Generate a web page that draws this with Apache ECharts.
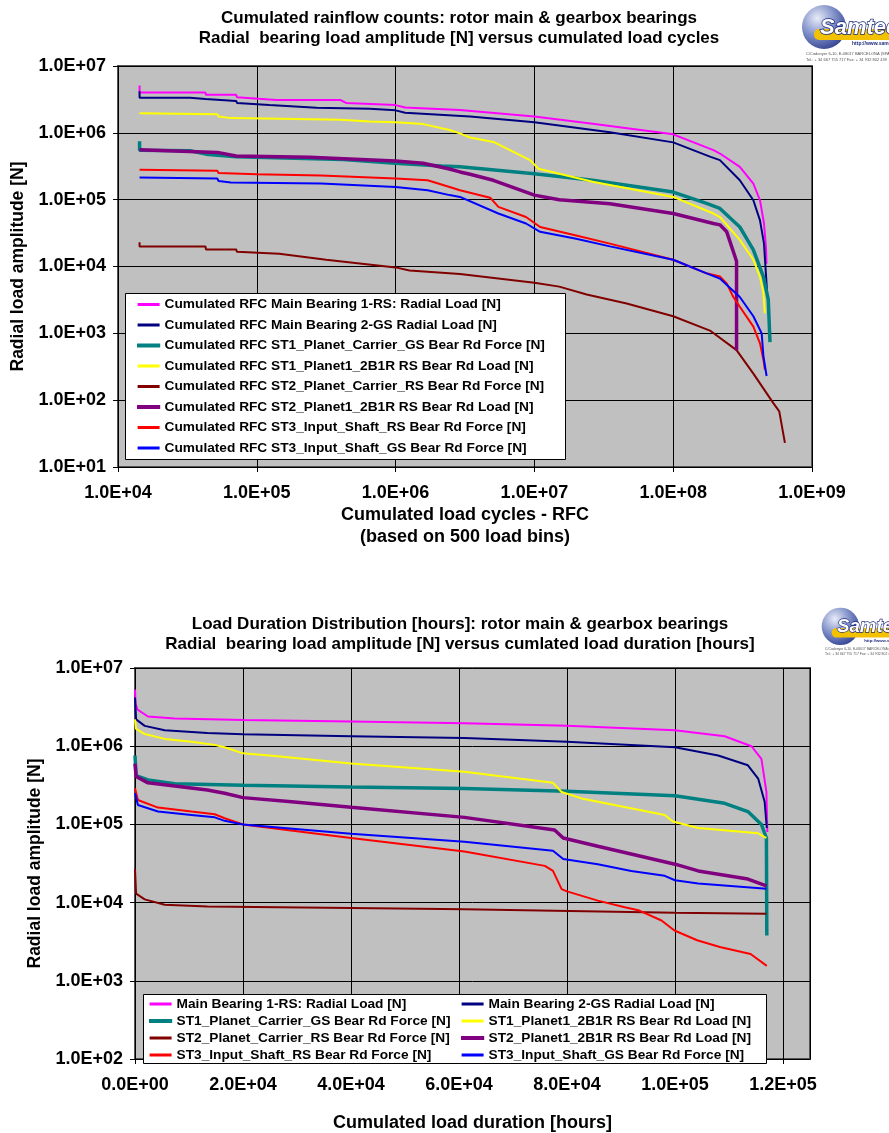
<!DOCTYPE html>
<html><head><meta charset="utf-8">
<script src="https://cdn.jsdelivr.net/npm/echarts@6/dist/echarts.min.js"></script>
<style>html,body{margin:0;padding:0;background:#fff}#c{width:889px;height:1133px}</style>
</head><body><div id="c"></div>
<script>
const FONT = '"Liberation Sans", Arial, Helvetica, sans-serif';

// ---------- tick labels ----------
const rfcXTicks = ['1.0E+04','1.0E+05','1.0E+06','1.0E+07','1.0E+08','1.0E+09'];
const rfcYTicks = ['1.0E+01','1.0E+02','1.0E+03','1.0E+04','1.0E+05','1.0E+06','1.0E+07'];
const durXTicks = ['0.0E+00','2.0E+04','4.0E+04','6.0E+04','8.0E+04','1.0E+05','1.2E+05'];
const durYTicks = ['1.0E+02','1.0E+03','1.0E+04','1.0E+05','1.0E+06','1.0E+07'];

// ---------- series names ----------
const rfcNames = [
  'Cumulated RFC Main Bearing 1-RS: Radial Load [N]',
  'Cumulated RFC Main Bearing 2-GS Radial Load [N]',
  'Cumulated RFC ST1_Planet_Carrier_GS Bear Rd Force [N]',
  'Cumulated RFC ST1_Planet1_2B1R RS Bear Rd Load [N]',
  'Cumulated RFC ST2_Planet_Carrier_RS Bear Rd Force [N]',
  'Cumulated RFC ST2_Planet1_2B1R RS Bear Rd Load [N]',
  'Cumulated RFC ST3_Input_Shaft_RS Bear Rd Force [N]',
  'Cumulated RFC ST3_Input_Shaft_GS Bear Rd Force [N]'
];
const durNames = [
  'Main Bearing 1-RS: Radial Load [N]',
  'Main Bearing 2-GS Radial Load [N]',
  'ST1_Planet_Carrier_GS Bear Rd Force [N]',
  'ST1_Planet1_2B1R RS Bear Rd Load [N]',
  'ST2_Planet_Carrier_RS Bear Rd Force [N]',
  'ST2_Planet1_2B1R RS Bear Rd Load [N]',
  'ST3_Input_Shaft_RS Bear Rd Force [N]',
  'ST3_Input_Shaft_GS Bear Rd Force [N]'
];

// ---------- top chart: [cumulated cycles, load amplitude N] ----------
const rfcMainBearing1RS = [[1.43e4,5.1e6],[1.43e4,4.0e6],[4.27e4,4.0e6],[4.3e4,3.7e6],[7.1e4,3.7e6],[7.2e4,3.4e6],[1.38e5,3.1e6],[4.0e5,3.1e6],[4.4e5,2.8e6],[1.0e6,2.6e6],[1.17e6,2.4e6],[2.9e6,2.2e6],[1.0e7,1.76e6],[2.63e7,1.37e6],[1.0e8,9.5e5],[1.95e8,5.5e5],[2.17e8,4.9e5],[3.02e8,3.1e5],[3.78e8,1.74e5],[4.22e8,9.8e4],[4.51e8,4.4e4],[4.67e8,1.8e4],[4.7e8,1.1e4]];
const rfcMainBearing2GS = [[1.43e4,4.2e6],[1.43e4,3.35e6],[3.3e4,3.35e6],[3.4e4,3.2e6],[4.27e4,3.2e6],[4.3e4,3.0e6],[7.1e4,3.0e6],[7.2e4,2.8e6],[1.23e5,2.6e6],[2.7e5,2.38e6],[6.5e5,2.3e6],[1.0e6,2.17e6],[1.17e6,2.0e6],[3.44e6,1.75e6],[1.0e7,1.44e6],[3.5e7,1.02e6],[1.0e8,7.2e5],[1.84e8,4.4e5],[2.17e8,3.9e5],[3.02e8,1.95e5],[3.78e8,9.8e4],[4.22e8,4.9e4],[4.51e8,2.2e4],[4.67e8,7e3],[4.75e8,4e3]];
const rfcST1PlanetCarrierGS = [[1.43e4,7.5e5],[1.43e4,5.5e5],[3.3e4,5.4e5],[4.3e4,4.8e5],[7.1e4,4.4e5],[7.2e4,4.2e5],[4.2e5,4.0e5],[1.0e6,3.5e5],[2.14e6,3.2e5],[2.91e6,3.1e5],[1.0e7,2.45e5],[2.63e7,1.95e5],[1.0e8,1.3e5],[1.74e8,8.8e4],[2.17e8,7.4e4],[3.02e8,3.9e4],[3.78e8,1.77e4],[4.47e8,7e3],[4.84e8,3.2e3],[4.98e8,7.4e2]];
const rfcST1Planet1RS = [[1.43e4,1.97e6],[1.43e4,1.89e6],[5.2e4,1.89e6],[5.3e4,1.76e6],[6.5e4,1.66e6],[1.5e5,1.62e6],[4.0e5,1.57e6],[6.5e5,1.48e6],[1.0e6,1.44e6],[1.58e6,1.35e6],[2.45e6,1.1e6],[2.91e6,9.8e5],[3.44e6,8.5e5],[5.06e6,7.3e5],[6.67e6,5.5e5],[9.3e6,3.9e5],[1.07e7,2.9e5],[2.63e7,1.85e5],[1.0e8,1.1e5],[1.95e8,6.2e4],[2.17e8,5.5e4],[3.02e8,2.5e4],[3.78e8,1.26e4],[4.22e8,7e3],[4.47e8,4e3],[4.57e8,2e3]];
const rfcST2PlanetCarrierRS = [[1.43e4,2.3e4],[1.43e4,2.0e4],[4.27e4,2.0e4],[4.3e4,1.8e4],[7.1e4,1.8e4],[7.2e4,1.66e4],[1.45e5,1.55e4],[3.16e5,1.26e4],[1.0e6,9.7e3],[1.26e6,8.7e3],[2.91e6,7.7e3],[1.0e7,5.7e3],[1.51e7,5.0e3],[2.38e7,3.8e3],[4.62e7,2.8e3],[1.0e8,1.8e3],[1.84e8,1.1e3],[2.86e8,5.6e2],[3.78e8,2.5e2],[5.25e8,91],[5.81e8,68],[6.38e8,23]];
const rfcST2Planet1RS = [[1.43e4,5.6e5],[1.43e4,5.3e5],[5.2e4,5.1e5],[7.1e4,4.5e5],[2.4e5,4.3e5],[1.0e6,3.8e5],[1.58e6,3.5e5],[2.4e6,2.9e5],[2.91e6,2.6e5],[3.44e6,2.4e5],[5.06e6,1.95e5],[1.0e7,1.17e5],[1.51e7,1.0e5],[3.5e7,8.7e4],[1.0e8,6.2e4],[1.95e8,4.4e4],[2.17e8,4.2e4],[2.43e8,3.3e4],[2.79e8,1.4e4],[2.86e8,1.2e4],[2.86e8,5.6e2]];
const rfcST3InputShaftRS = [[1.43e4,2.8e5],[1.43e4,2.7e5],[5.2e4,2.7e5],[5.3e4,2.5e5],[1.0e5,2.4e5],[2.9e5,2.3e5],[1.0e6,2.07e5],[1.7e6,1.95e5],[2.45e6,1.55e5],[2.91e6,1.38e5],[4.8e6,1.07e5],[5.5e6,7.8e4],[8.7e6,5.5e4],[1.1e7,3.9e4],[2.0e7,2.9e4],[3.5e7,2.2e4],[1.0e8,1.26e4],[1.74e8,7.9e3],[2.17e8,7.1e3],[2.43e8,5.6e3],[2.71e8,3.5e3],[3.02e8,2.5e3],[3.78e8,1.26e3],[4.22e8,7.1e2],[4.47e8,4e2],[4.58e8,2.85e2]];
const rfcST3InputShaftGS = [[1.43e4,2.15e5],[1.43e4,2.07e5],[5.2e4,2.07e5],[5.3e4,1.9e5],[6.5e4,1.8e5],[2.9e5,1.74e5],[1.0e6,1.55e5],[1.7e6,1.38e5],[2.45e6,1.17e5],[2.91e6,1.1e5],[5.5e6,6.2e4],[8.7e6,4.4e4],[1.1e7,3.3e4],[2.0e7,2.6e4],[3.5e7,2.0e4],[1.0e8,1.26e4],[1.74e8,7.9e3],[2.17e8,6.6e3],[3.02e8,3.5e3],[3.78e8,1.8e3],[4.34e8,1e3],[4.47e8,4.5e2],[4.71e8,2.3e2]];

// ---------- bottom chart: [cumulated hours, load amplitude N] ----------
const durMainBearing1RS = [[0,5.3e6],[100,3.5e6],[440,2.95e6],[2400,2.4e6],[7350,2.26e6],[20000,2.17e6],[40000,2.07e6],[61000,1.97e6],[80000,1.82e6],[100000,1.6e6],[109200,1.34e6],[114150,1.0e6],[116000,6.9e5],[116930,2.6e5],[117100,8e4]];
const durMainBearing2GS = [[0,4.2e6],[200,2.2e6],[1800,1.82e6],[5500,1.6e6],[13400,1.47e6],[20000,1.42e6],[40000,1.34e6],[61000,1.27e6],[80000,1.14e6],[100000,9.7e5],[108000,7.6e5],[113500,5.7e5],[115400,3.86e5],[116600,1.95e5],[117000,9e4]];
const durST1PlanetCarrierGS = [[0,7.6e5],[200,4.2e5],[2400,3.7e5],[7350,3.3e5],[20000,3.16e5],[40000,3.0e5],[61000,2.88e5],[80000,2.66e5],[100000,2.33e5],[109200,1.86e5],[113500,1.46e5],[116000,1.0e5],[116930,6.7e4],[117000,3.8e3]];
const durST1Planet1RS = [[0,2.2e6],[200,1.66e6],[1800,1.43e6],[5500,1.24e6],[10450,1.14e6],[14760,1.04e6],[16600,9.7e5],[20000,8.1e5],[25900,7.5e5],[40000,6.0e5],[61000,4.7e5],[77400,3.4e5],[79000,2.6e5],[82700,2.15e5],[98100,1.32e5],[99600,1.09e5],[104300,9.0e4],[115400,7.7e4],[116930,6.7e4]];
const durST2PlanetCarrierRS = [[0,2.7e4],[200,1.3e4],[1800,1.1e4],[5500,9.4e3],[13400,8.9e3],[40000,8.5e3],[61000,8.2e3],[100000,7.4e3],[116930,7.2e3]];
const durST2Planet1RS = [[0,6.0e5],[200,4.1e5],[2400,3.4e5],[7350,3.1e5],[13400,2.75e5],[16600,2.5e5],[20000,2.2e5],[29000,1.95e5],[40000,1.66e5],[61000,1.23e5],[77700,8.5e4],[79300,6.7e4],[85700,5.25e4],[100000,3.1e4],[104300,2.54e4],[113500,2.0e4],[116930,1.64e4]];
const durST3InputShaftRS = [[0,2.9e5],[540,2.05e5],[4260,1.64e5],[10450,1.46e5],[14760,1.35e5],[16600,1.2e5],[20000,1.0e5],[40000,6.7e4],[61000,4.5e4],[75900,2.95e4],[77400,2.54e4],[79000,1.49e4],[80000,1.39e4],[85700,1.06e4],[90700,8.7e3],[93200,8.0e3],[97500,5.9e3],[99900,4.4e3],[104100,3.3e3],[108300,2.7e3],[114000,2.2e3],[117000,1.55e3]];
const durST3InputShaftGS = [[0,2.5e5],[540,1.77e5],[4260,1.46e5],[10450,1.32e5],[14760,1.23e5],[16600,1.11e5],[20000,1.0e5],[40000,7.6e4],[61000,6.0e4],[77400,4.6e4],[79300,3.6e4],[85700,3.1e4],[91900,2.54e4],[98100,2.2e4],[100000,1.93e4],[104300,1.75e4],[116930,1.5e4]];

const colors = ['#ff00ff','#000080','#008080','#ffff00','#800000','#800080','#ff0000','#0000ff'];
const widths = [2,2,3.5,2,2,3.5,2,2];

const rfcData = [rfcMainBearing1RS, rfcMainBearing2GS, rfcST1PlanetCarrierGS, rfcST1Planet1RS, rfcST2PlanetCarrierRS, rfcST2Planet1RS, rfcST3InputShaftRS, rfcST3InputShaftGS];
const durData = [durMainBearing1RS, durMainBearing2GS, durST1PlanetCarrierGS, durST1Planet1RS, durST2PlanetCarrierRS, durST2Planet1RS, durST3InputShaftRS, durST3InputShaftGS];

function labelFor(ticks, base, isLog, step) {
  return function (v) {
    let i;
    if (isLog) i = Math.round(Math.log10(v)) - base;
    else { if (Math.abs(v / step - Math.round(v / step)) > 1e-6) return ''; i = Math.round(v / step); }
    return ticks[i] !== undefined ? ticks[i] : '';
  };
}

const tickFont = { fontFamily: FONT, fontWeight: 'bold', fontSize: 18, color: '#000' };
const nameFont = { fontFamily: FONT, fontWeight: 'bold', fontSize: 17.5, color: '#000' };
const legFont = { fontFamily: FONT, fontWeight: 'bold', fontSize: 13.7, lineHeight: 15, color: '#000' };

function legendItems(names, idx) {
  return idx.map(i => ({
    name: names[i], icon: 'rect',
    itemStyle: widths[i] > 3 ? { color: colors[i], borderColor: colors[i], borderWidth: 1.2 } : { color: colors[i], borderWidth: 0 }
  }));
}

function series() {
  const out = [];
  rfcData.forEach((d, i) => out.push({
    name: rfcNames[i], type: 'line', xAxisIndex: 0, yAxisIndex: 0, data: d,
    symbol: 'none', showSymbol: false, color: colors[i],
    lineStyle: { width: widths[i], color: colors[i] }, animation: false
  }));
  durData.forEach((d, i) => out.push({
    name: durNames[i], type: 'line', xAxisIndex: 1, yAxisIndex: 1, data: d,
    symbol: 'none', showSymbol: false, color: colors[i],
    lineStyle: { width: widths[i], color: colors[i] }, animation: false
  }));
  return out;
}

function logo(x, y, s) {
  return {
    type: 'group', x: x, y: y, scaleX: s, scaleY: s, z: 10,
    children: [
      { type: 'circle', shape: { cx: 24, cy: 24, r: 22 },
        style: { fill: new echarts.graphic.RadialGradient(0.35, 0.3, 0.8, [{offset:0,color:'#e8ecf8'},{offset:0.5,color:'#7f8fc8'},{offset:1,color:'#2a3a8a'}]) } },
      { type: 'rect', shape: { x: 14, y: 26, width: 80, height: 11, r: 5 }, style: { fill: '#f2c200' } },
      { type: 'text', x: 20, y: 14, style: { text: 'Samtech', font: 'italic bold 22px ' + FONT, fill: '#ffffff', stroke: '#1c2a7a', lineWidth: 1.5 } },
      { type: 'text', x: 52, y: 38, style: { text: 'http://www.samcef.com', font: 'bold 5px ' + FONT, fill: '#1c2a7a' } },
      { type: 'text', x: 6, y: 49, style: { text: 'C/Codonyer 6-10, E-08017 BARCELONA (SPAIN)', font: '4px ' + FONT, fill: '#555' } },
      { type: 'text', x: 6, y: 55, style: { text: 'Tel.: + 34 667 755 717 Fax: + 34 932 802 439', font: '4px ' + FONT, fill: '#555' } }
    ]
  };
}

const chart = echarts.init(document.getElementById('c'), null, { renderer: 'canvas', width: 889, height: 1133 });
const option = {
  animation: false,
  backgroundColor: '#ffffff',
  title: [
    { text: 'Cumulated rainflow counts: rotor main & gearbox bearings\nRadial  bearing load amplitude [N] versus cumulated load cycles',
      left: 454, top: 3, textAlign: 'center',
      textStyle: { fontFamily: FONT, fontWeight: 'bold', fontSize: 17, lineHeight: 20, color: '#000' } },
    { text: 'Load Duration Distribution [hours]: rotor main & gearbox bearings\nRadial  bearing load amplitude [N] versus cumlated load duration [hours]',
      left: 455, top: 609, textAlign: 'center',
      textStyle: { fontFamily: FONT, fontWeight: 'bold', fontSize: 17, lineHeight: 20, color: '#000' } }
  ],
  grid: [
    { left: 118, top: 66, width: 694, height: 401, show: true, backgroundColor: '#c0c0c0', borderColor: '#555', borderWidth: 2 },
    { left: 135, top: 668, width: 675, height: 395, show: true, backgroundColor: '#c0c0c0', borderColor: '#555', borderWidth: 2 }
  ],
  xAxis: [
    { type: 'log', gridIndex: 0, min: 1e4, max: 1e9, logBase: 10, splitNumber: 5,
      axisLine: { lineStyle: { color: '#000', width: 1 } },
      axisTick: { show: true, length: 5, lineStyle: { color: '#000' } },
      minorTick: { show: false },
      splitLine: { show: true, lineStyle: { color: '#000', width: 1 } },
      axisLabel: { ...tickFont, margin: 17, formatter: labelFor(rfcXTicks, 4, true) },
      name: 'Cumulated load cycles - RFC\n(based on 500 load bins)', nameLocation: 'middle', nameGap: 37,
      nameTextStyle: { ...nameFont, fontSize: 18, lineHeight: 22 } },
    { type: 'value', gridIndex: 1, min: 0, max: 125000, interval: 20000,
      axisLine: { lineStyle: { color: '#000', width: 1 } },
      axisTick: { show: true, length: 5, lineStyle: { color: '#000' } },
      splitLine: { show: true, lineStyle: { color: '#000', width: 1 } },
      axisLabel: { ...tickFont, margin: 17, showMaxLabel: false, formatter: labelFor(durXTicks, 0, false, 20000) },
      name: 'Cumulated load duration [hours]', nameLocation: 'middle', nameGap: 55,
      nameTextStyle: { ...nameFont, fontSize: 18 } }
  ],
  yAxis: [
    { type: 'log', gridIndex: 0, min: 10, max: 1e7, logBase: 10, splitNumber: 6,
      axisLine: { lineStyle: { color: '#000', width: 1 } },
      axisTick: { show: true, length: 5, lineStyle: { color: '#000' } },
      splitLine: { show: true, lineStyle: { color: '#000', width: 1 } },
      axisLabel: { ...tickFont, margin: 12, formatter: labelFor(rfcYTicks, 1, true) },
      name: 'Radial load amplitude [N]', nameLocation: 'middle', nameGap: 88, nameRotate: 90,
      nameTextStyle: { ...nameFont } },
    { type: 'log', gridIndex: 1, min: 100, max: 1e7, logBase: 10, splitNumber: 5,
      axisLine: { lineStyle: { color: '#000', width: 1 } },
      axisTick: { show: true, length: 5, lineStyle: { color: '#000' } },
      splitLine: { show: true, lineStyle: { color: '#000', width: 1 } },
      axisLabel: { ...tickFont, margin: 12, formatter: labelFor(durYTicks, 2, true) },
      name: 'Radial load amplitude [N]', nameLocation: 'middle', nameGap: 88, nameRotate: 90,
      nameTextStyle: { ...nameFont } }
  ],
  legend: [
    { data: legendItems(rfcNames, [0,1,2,3,4,5,6,7]), orient: 'vertical', left: 137, top: 297, itemWidth: 22, itemHeight: 3, itemGap: 5.5, padding: 0, z: 6,
      textStyle: legFont },
    { data: legendItems(durNames, [0,2,4,6]), orient: 'vertical', left: 149, top: 996.5, itemWidth: 22, itemHeight: 3, itemGap: 2, padding: 0, z: 6,
      textStyle: legFont },
    { data: legendItems(durNames, [1,3,5,7]), orient: 'vertical', left: 461, top: 996.5, itemWidth: 22, itemHeight: 3, itemGap: 2, padding: 0, z: 6,
      textStyle: legFont }
  ],
  graphic: [
    { type: 'rect', shape: { x: 125.5, y: 293.5, width: 440, height: 166 }, style: { fill: '#fff', stroke: '#000', lineWidth: 1 }, z: 5 },
    { type: 'rect', shape: { x: 143.5, y: 994.5, width: 623, height: 69 }, style: { fill: '#fff', stroke: '#000', lineWidth: 1 }, z: 5 },
    logo(800, 3, 1),
    logo(820, 606, 0.85)
  ],
  series: series()
};
chart.setOption(option);
</script>
</body></html>
